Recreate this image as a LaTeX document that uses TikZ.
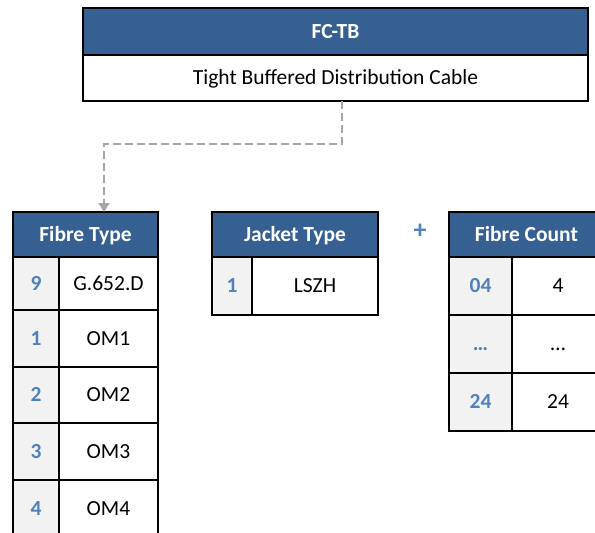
\documentclass[tikz,border=0pt]{standalone}
\usepackage{fontspec}
\setmainfont{Carlito}
\usetikzlibrary{arrows.meta,positioning}
\definecolor{hdrblue}{HTML}{366092}
\definecolor{numblue}{HTML}{4F81BD}
\definecolor{cellgrey}{HTML}{F2F2F2}
\definecolor{linkgrey}{HTML}{A6A6A6}
\tikzset{
  cell/.style = {draw=black, line width=1.3pt, inner sep=0pt, outer sep=0pt,
    align=center, text height=13.8pt, text depth=0pt,
    font=\fontsize{21.5}{25}\selectfont},
  hdr/.style = {cell, fill=hdrblue, text=white,
    font=\fontsize{21.5}{25}\selectfont\bfseries},% table header
  num/.style = {cell, fill=cellgrey, text=numblue,
    font=\fontsize{21.5}{25}\selectfont\bfseries},% code column
  val/.style = {cell, fill=white},% value column
  link/.style = {draw=linkgrey, line width=2pt, dash pattern=on 8pt off 4pt,
    -{Triangle[width=11pt,length=9pt]}}
}

\begin{document}
\begin{tikzpicture}[x=1pt,y=-1pt]
        \path[use as bounding box, clip] (0,0) rectangle (595,533);
        % cable
        \node [hdr, anchor=north west, minimum width=505pt, minimum height=47pt] (tb-hdr) at (83,8) {FC-TB};
        \node [val, below=0pt of tb-hdr, minimum width=505pt, minimum height=46pt] (tb-desc) {Tight Buffered Distribution Cable};
        % fibre type
        \node [hdr, anchor=north west, minimum width=145pt, minimum height=45pt] (ft-hdr) at (13,212) {Fibre Type};
        \node [num, below right=0pt and 0pt of ft-hdr.south west, minimum width=46pt, minimum height=53pt] (ft-n1) {9};
        \node [val, right=0pt of ft-n1, minimum width=99pt, minimum height=53pt] (ft-v1) {G.652.D};
        \node [num, below=0pt of ft-n1, minimum width=46pt, minimum height=57pt] (ft-n2) {1};
        \node [val, right=0pt of ft-n2, minimum width=99pt, minimum height=57pt] (ft-v2) {OM1};
        \node [num, below=0pt of ft-n2, minimum width=46pt, minimum height=56pt] (ft-n3) {2};
        \node [val, right=0pt of ft-n3, minimum width=99pt, minimum height=56pt] (ft-v3) {OM2};
        \node [num, below=0pt of ft-n3, minimum width=46pt, minimum height=57pt] (ft-n4) {3};
        \node [val, right=0pt of ft-n4, minimum width=99pt, minimum height=57pt] (ft-v4) {OM3};
        \node [num, below=0pt of ft-n4, minimum width=46pt, minimum height=57pt] (ft-n5) {4};
        \node [val, right=0pt of ft-n5, minimum width=99pt, minimum height=57pt] (ft-v5) {OM4};
        % jacket type
        \node [hdr, anchor=north west, minimum width=166pt, minimum height=45pt] (jt-hdr) at (212,212) {Jacket Type};
        \node [num, below right=0pt and 0pt of jt-hdr.south west, minimum width=40pt, minimum height=58pt] (jt-n1) {1};
        \node [val, right=0pt of jt-n1, minimum width=126pt, minimum height=58pt] (jt-v1) {LSZH};
        \node [text=numblue, font=\fontsize{26}{30}\selectfont\bfseries] (plus) at (420,231) {+};
        % fibre count
        \node [hdr, anchor=north west, minimum width=155pt, minimum height=45pt] (fc-hdr) at (449,212) {Fibre Count};
        \node [num, below right=0pt and 0pt of fc-hdr.south west, minimum width=63pt, minimum height=58pt] (fc-n1) {04};
        \node [val, right=0pt of fc-n1, minimum width=92pt, minimum height=58pt] (fc-v1) {4};
        \node [num, below=0pt of fc-n1, minimum width=63pt, minimum height=58pt] (fc-n2) {\ldots};
        \node [val, right=0pt of fc-n2, minimum width=92pt, minimum height=58pt] (fc-v2) {\ldots};
        \node [num, below=0pt of fc-n2, minimum width=63pt, minimum height=58pt] (fc-n3) {24};
        \node [val, right=0pt of fc-n3, minimum width=92pt, minimum height=58pt] (fc-v3) {24};
        % link
        \coordinate (bend) at (104,144);
        \draw [link] ([xshift=6.5pt]tb-desc.south) |- (bend) -- (bend |- ft-hdr.north);
\end{tikzpicture}
\end{document}
